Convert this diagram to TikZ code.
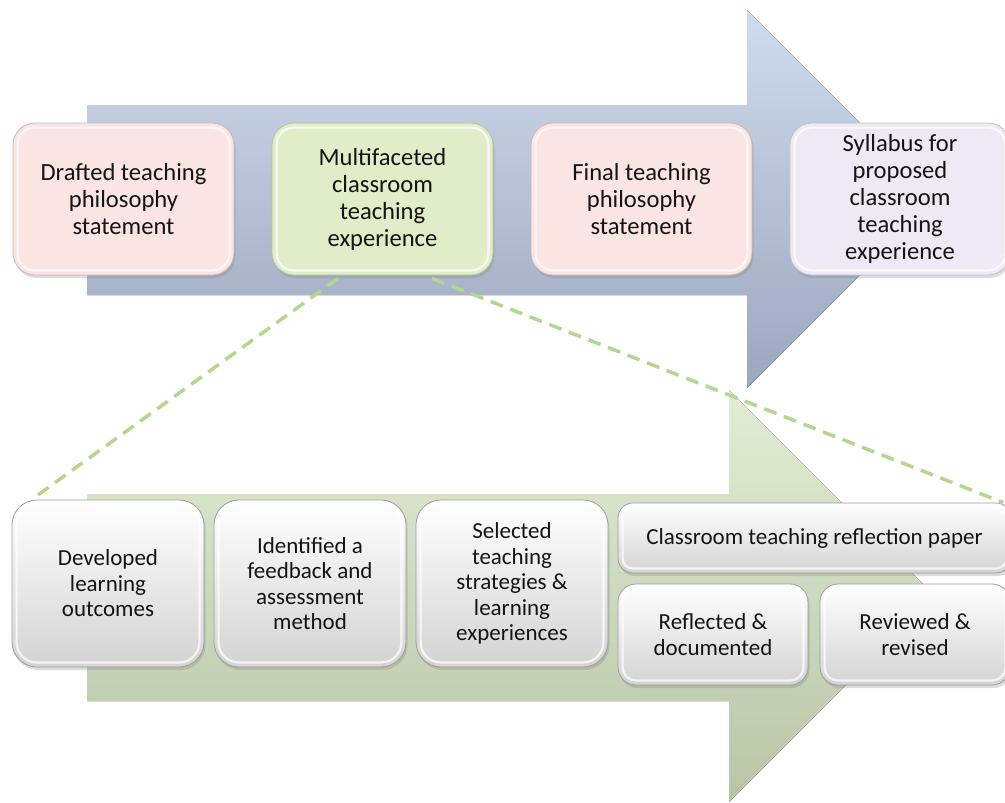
\documentclass[tikz,border=0pt]{standalone}
\usepackage{fontspec}
\setmainfont{Carlito}
\usetikzlibrary{shadows,calc}
\definecolor{blueT}{HTML}{CFDBEE}
\definecolor{blueB}{HTML}{9CA6BD}
\definecolor{greenT}{HTML}{E2EDD5}
\definecolor{greenB}{HTML}{B8C5A6}
\definecolor{pinkF}{HTML}{FBE5E3}
\definecolor{pinkD}{HTML}{CDB6B4}
\definecolor{grnF}{HTML}{E0EDC8}
\definecolor{grnD}{HTML}{B3C39A}
\definecolor{lavF}{HTML}{EDE9F5}
\definecolor{lavD}{HTML}{C4C0CE}
\definecolor{grayB}{HTML}{D3D3D3}
\definecolor{grayD}{HTML}{9E9E9E}
\definecolor{dashG}{HTML}{B3D78F}
\definecolor{txt}{HTML}{141414}
\newcommand\boxbevel[2]{%
  \draw[white, line width=2.2pt, opacity=.75, rounded corners=#2]
    ([shift={(5pt,-5pt)}]#1.north west) rectangle ([shift={(-5pt,5pt)}]#1.south east);}
\tikzset{
  boxshadow/.style={drop shadow={opacity=.28, shadow xshift=1.5pt, shadow yshift=-3pt}},
  topbox/.style={rounded corners=22pt, minimum width=221pt, minimum height=152pt,
    align=center, font=\fontsize{24.6}{27}\selectfont, text=txt, line width=.8pt, boxshadow},
  botbox/.style={rounded corners=25pt, minimum width=192pt, minimum height=167pt,
    align=center, font=\fontsize{23}{25.5}\selectfont, text=txt, line width=.8pt,
    top color=white, bottom color=grayB, draw=grayD, boxshadow},
  smallbox/.style={botbox, rounded corners=18pt},
  zoomline/.style={draw=dashG, line width=3.5pt, dash pattern=on 13pt off 8pt}
}
\begin{document}
\begin{tikzpicture}[x=1pt,y=-1pt]
\useasboundingbox (0,0) rectangle (1005,803);
% big arrows
\fill[top color=blueT, bottom color=blueB]
  (87,105) -- (747,105) -- (747,10) -- (936,199) -- (747,388) -- (747,295) -- (87,295) -- cycle;
\fill[top color=greenT, bottom color=greenB]
  (87,494) -- (729,494) -- (729,390) -- (935,596) -- (729,802) -- (729,701) -- (87,701) -- cycle;
% top row
\node[topbox, fill=pinkF, draw=pinkD] (d1) at (123.5,199) {Drafted teaching\\philosophy\\statement};
\node[topbox, fill=grnF, draw=grnD] (m) at (382.5,199) {Multifaceted\\classroom\\teaching\\experience};
\node[topbox, fill=pinkF, draw=pinkD] (f) at (641.5,199) {Final teaching\\philosophy\\statement};
\node[topbox, fill=lavF, draw=lavD, minimum width=220pt] (s) at (900,199) {Syllabus for\\proposed\\classroom\\teaching\\experience};
\boxbevel{d1}{17pt}\boxbevel{m}{17pt}\boxbevel{f}{17pt}\boxbevel{s}{17pt}
% bottom row
\node[botbox] (b1) at (108,583.5) {Developed\\learning\\outcomes};
\node[botbox] (b2) at (310,583.5) {Identified a\\feedback and\\assessment\\method};
\node[botbox] (b3) at (512,583.5) {Selected\\teaching\\strategies \&\\learning\\experiences};
\node[smallbox, rounded corners=15pt, minimum width=393pt, minimum height=70pt] (cp) at (814.5,538) {Classroom teaching reflection paper};
\node[smallbox, minimum width=190pt, minimum height=101pt] (r1) at (713,634.5) {Reflected \&\\documented};
\node[smallbox, minimum width=190pt, minimum height=101pt] (r2) at (915,634.5) {Reviewed \&\\revised};
\boxbevel{b1}{20pt}\boxbevel{b2}{20pt}\boxbevel{b3}{20pt}
\boxbevel{cp}{10pt}\boxbevel{r1}{13pt}\boxbevel{r2}{13pt}
% zoom lines
\draw[zoomline] ($(m.south)+(-44.5,3)$) -- ($(b1.north west)+(20,0)$);
\draw[zoomline] ($(m.south)+(49.5,3)$) -- ($(cp.north east)+(-8,0)$);
\end{tikzpicture}
\end{document}
